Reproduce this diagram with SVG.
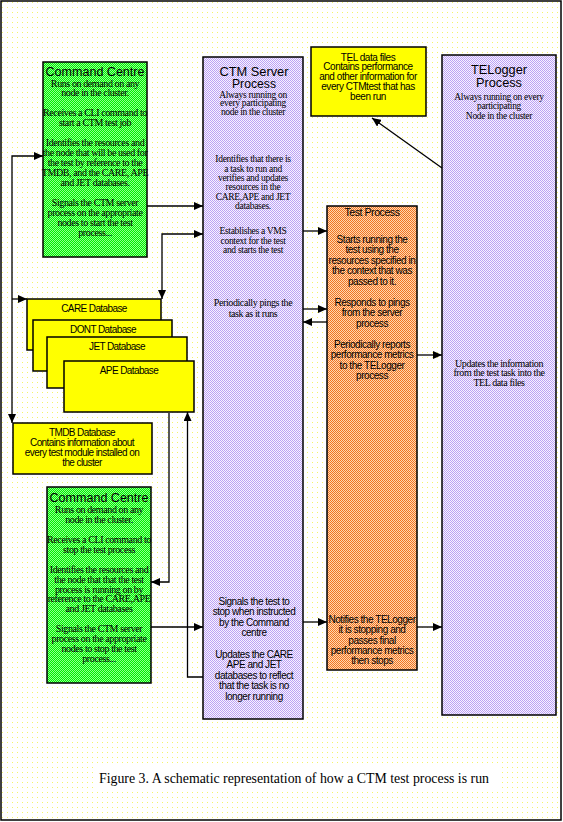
<svg xmlns="http://www.w3.org/2000/svg" width="563" height="822" viewBox="0 0 563 822">
<defs>
<pattern id="bg" width="5" height="5" patternUnits="userSpaceOnUse"><rect width="5" height="5" fill="#ffffff"/><rect x="2" y="2" width="1" height="1" fill="#f4f46a"/></pattern>
<pattern id="gr" width="2" height="2" patternUnits="userSpaceOnUse"><rect width="2" height="2" fill="#00f000"/><rect width="1" height="1" fill="#90ff90"/><rect x="1" y="1" width="1" height="1" fill="#90ff90"/></pattern>
<pattern id="pu" width="2" height="2" patternUnits="userSpaceOnUse"><rect width="2" height="2" fill="#f8f4ff"/><rect width="1" height="1" fill="#bca2f4"/><rect x="1" y="1" width="1" height="1" fill="#bca2f4"/></pattern>
<pattern id="or" width="2" height="2" patternUnits="userSpaceOnUse"><rect width="2" height="2" fill="#ffd8b0"/><rect width="1" height="1" fill="#f07424"/><rect x="1" y="1" width="1" height="1" fill="#f07424"/></pattern>
<marker id="ah" markerUnits="userSpaceOnUse" markerWidth="10" markerHeight="8" refX="9" refY="4" orient="auto-start-reverse"><path d="M0,0 L9,4 L0,8 z" fill="#000"/></marker>
</defs>
<style>
.box{stroke:#000;stroke-width:1.5}
.yel{fill:#ffff00}
.grn{fill:url(#gr)}
.pur{fill:url(#pu)}
.org{fill:url(#or)}
.ti{font-family:"Liberation Sans",Arial,sans-serif;font-size:12px;text-anchor:middle;fill:#000}
.se{font-family:"Liberation Serif","Times New Roman",serif;font-size:10px;letter-spacing:-0.4px;text-anchor:middle;fill:#000}
.sm{font-family:"Liberation Serif","Times New Roman",serif;font-size:9.5px;letter-spacing:-0.3px;text-anchor:middle;fill:#000}
.sa{font-family:"Liberation Sans",Arial,sans-serif;font-size:10px;letter-spacing:-0.45px;text-anchor:middle;fill:#000}
.db{font-family:"Liberation Sans",Arial,sans-serif;font-size:10px;letter-spacing:-0.6px;text-anchor:middle;fill:#000}
.con{fill:none;stroke:#000;stroke-width:1.3}
</style>
<rect x="1" y="1" width="560" height="819" fill="url(#bg)" stroke="#000" stroke-width="1.5"/>
<g id="caption">
<rect x="97" y="763" width="405" height="29" fill="#ffffff"/>
<text x="99" y="783" font-family="Liberation Serif, Times New Roman, serif" font-size="14" textLength="390" lengthAdjust="spacingAndGlyphs">Figure 3. A schematic representation of how a CTM test process is run</text>
</g>
<g id="command-centre-1">
<rect class="box grn" x="43" y="62" width="104" height="195"/>
<text class="ti" x="95" y="75.5" textLength="99" lengthAdjust="spacingAndGlyphs">Command Centre</text>
<text class="se" x="95" y="86.5">Runs on demand on any</text>
<text class="se" x="95" y="96">node in the cluster.</text>
<text class="se" x="95" y="116">Receives a CLI command to</text>
<text class="se" x="95" y="126">start a CTM test job</text>
<text class="se" x="95" y="146">Identifies the resources and</text>
<text class="se" x="95" y="156">the node that will be used for</text>
<text class="se" x="95" y="166">the test by reference to the</text>
<text class="se" x="95" y="176">TMDB, and the CARE, APE</text>
<text class="se" x="95" y="186">and JET databases.</text>
<text class="se" x="95" y="206">Signals the CTM server</text>
<text class="se" x="95" y="216">process on the appropriate</text>
<text class="se" x="95" y="226">nodes to start the test</text>
<text class="se" x="95" y="236">process...</text>
</g>
<g id="ctm-server">
<rect class="box pur" x="203" y="57" width="100" height="662"/>
<text class="ti" x="254" y="75.5" textLength="69" lengthAdjust="spacingAndGlyphs">CTM Server</text>
<text class="ti" x="254" y="88" textLength="44" lengthAdjust="spacingAndGlyphs">Process</text>
<text class="sm" x="253" y="97.5">Always running on</text>
<text class="sm" x="253" y="106">every participating</text>
<text class="sm" x="253" y="114.5">node in the cluster</text>
<text class="sm" x="253" y="162">Identifies that there is</text>
<text class="sm" x="253" y="171.5">a task to run and</text>
<text class="sm" x="253" y="181">verifies and updates</text>
<text class="sm" x="253" y="190">resources in the</text>
<text class="sm" x="253" y="199.5">CARE,APE and JET</text>
<text class="sm" x="253" y="209">databases.</text>
<text class="sm" x="253" y="234">Establishes a VMS</text>
<text class="sm" x="253" y="243.5">context for the test</text>
<text class="sm" x="253" y="253">and starts the test</text>
<text class="se" x="253" y="306">Periodically pings the</text>
<text class="se" x="253" y="317">task as it runs</text>
<text class="sa" x="254" y="605">Signals the test to</text>
<text class="sa" x="254" y="615">stop when instructed</text>
<text class="sa" x="254" y="626">by the Command</text>
<text class="sa" x="254" y="636">centre</text>
<text class="sa" x="254" y="658">Updates the CARE</text>
<text class="sa" x="254" y="668">APE and JET</text>
<text class="sa" x="254" y="679">databases to reflect</text>
<text class="sa" x="254" y="689">that the task is no</text>
<text class="sa" x="254" y="700">longer running</text>
</g>
<g id="test-process">
<rect class="box org" x="327" y="206" width="90" height="464"/>
<text class="sa" x="372" y="216" font-size="11" textLength="55" lengthAdjust="spacingAndGlyphs">Test Process</text>
<text class="sa" x="372" y="242.5">Starts running the</text>
<text class="sa" x="372" y="253">test using the</text>
<text class="sa" x="372" y="263.5">resources specified in</text>
<text class="sa" x="372" y="274">the context that was</text>
<text class="sa" x="372" y="284.5">passed to it.</text>
<text class="sa" x="372" y="306">Responds to pings</text>
<text class="sa" x="372" y="316">from the server</text>
<text class="sa" x="372" y="326.5">process</text>
<text class="sa" x="372" y="347.5">Periodically reports</text>
<text class="sa" x="372" y="358">performance metrics</text>
<text class="sa" x="372" y="368.5">to the TELogger</text>
<text class="sa" x="372" y="379">process</text>
<text class="sa" x="372" y="623">Notifies the TELogger</text>
<text class="sa" x="372" y="633">it is stopping and</text>
<text class="sa" x="372" y="643.5">passes final</text>
<text class="sa" x="372" y="654">performance metrics</text>
<text class="sa" x="372" y="664">then stops</text>
</g>
<g id="tel-data-files">
<rect class="box yel" x="311" y="47" width="115" height="69"/>
<text class="sa" x="368" y="60.5">TEL data files</text>
<text class="sa" x="368" y="70">Contains performance</text>
<text class="sa" x="368" y="80">and other information  for</text>
<text class="sa" x="368" y="90">every CTMtest that has</text>
<text class="sa" x="368" y="100">been run</text>
</g>
<g id="telogger">
<rect class="box pur" x="442" y="55" width="114" height="660"/>
<text class="ti" x="499" y="74" textLength="56" lengthAdjust="spacingAndGlyphs">TELogger</text>
<text class="ti" x="499" y="87" textLength="46" lengthAdjust="spacingAndGlyphs">Process</text>
<text class="sm" x="499" y="99.5">Always running on every</text>
<text class="sm" x="499" y="109">participating</text>
<text class="sm" x="499" y="119">Node in the cluster</text>
<text class="se" x="499" y="366.5">Updates the information</text>
<text class="se" x="499" y="376">from the test task into the</text>
<text class="se" x="499" y="386">TEL data files</text>
</g>
<g id="care-db">
<rect class="box yel" x="27" y="299" width="134" height="51"/>
<text class="db" x="94" y="312">CARE Database</text>
</g>
<g id="dont-db">
<rect class="box yel" x="33" y="320" width="139" height="51"/>
<text class="db" x="103" y="333">DONT Database</text>
</g>
<g id="jet-db">
<rect class="box yel" x="47" y="337" width="140" height="51"/>
<text class="db" x="117" y="350">JET Database</text>
</g>
<g id="ape-db">
<rect class="box yel" x="64" y="361" width="130" height="51"/>
<text class="db" x="129" y="374">APE Database</text>
</g>
<g id="tmdb-db">
<rect class="box yel" x="13" y="423" width="139" height="51"/>
<text class="db" x="82" y="436">TMDB Database</text>
<text class="db" x="82" y="446">Contains information about</text>
<text class="db" x="82" y="456">every test module installed on</text>
<text class="db" x="82" y="466">the cluster</text>
</g>
<g id="command-centre-2">
<rect class="box grn" x="47" y="487" width="104" height="196"/>
<text class="ti" x="99" y="501.5" textLength="99" lengthAdjust="spacingAndGlyphs">Command Centre</text>
<text class="se" x="99" y="513">Runs on demand on any</text>
<text class="se" x="99" y="523">node in the cluster.</text>
<text class="se" x="99" y="543">Receives a CLI command  to</text>
<text class="se" x="99" y="552.5">stop the test process</text>
<text class="se" x="99" y="572.5">Identifies the resources and</text>
<text class="se" x="99" y="582.5">the node that that the test</text>
<text class="se" x="99" y="592.5">process is running on by</text>
<text class="se" x="99" y="602">reference to the CARE,APE</text>
<text class="se" x="99" y="612">and JET databases</text>
<text class="se" x="99" y="631.5">Signals the CTM server</text>
<text class="se" x="99" y="641.5">process on the appropriate</text>
<text class="se" x="99" y="651.5">nodes to stop the test</text>
<text class="se" x="99" y="661.5">process...</text>
</g>
<g id="connectors">
<path class="con" d="M43,156 L12,156 L12,423" marker-start="url(#ah)" marker-end="url(#ah)"/>
<path class="con" d="M12,299 L27,299" marker-end="url(#ah)"/>
<path class="con" d="M147,206 L203,206" marker-end="url(#ah)"/>
<path class="con" d="M203,234 L162,234 L162,299" marker-start="url(#ah)" marker-end="url(#ah)"/>
<path class="con" d="M303,231 L327,231" marker-end="url(#ah)"/>
<path class="con" d="M303,309 L327,309" marker-end="url(#ah)"/>
<path class="con" d="M327,322 L303,322" marker-end="url(#ah)"/>
<path class="con" d="M417,355 L442,355" marker-end="url(#ah)"/>
<path class="con" d="M442,168 L372,118" marker-end="url(#ah)"/>
<path class="con" d="M169,413 L169,582 L151,582" marker-end="url(#ah)"/>
<path class="con" d="M203,677 L187.5,677 L187.5,412" marker-end="url(#ah)"/>
<path class="con" d="M151,627 L203,627" marker-end="url(#ah)"/>
<path class="con" d="M303,622 L327,622" marker-end="url(#ah)"/>
<path class="con" d="M417,627 L442,627" marker-end="url(#ah)"/>
</g>
</svg>
